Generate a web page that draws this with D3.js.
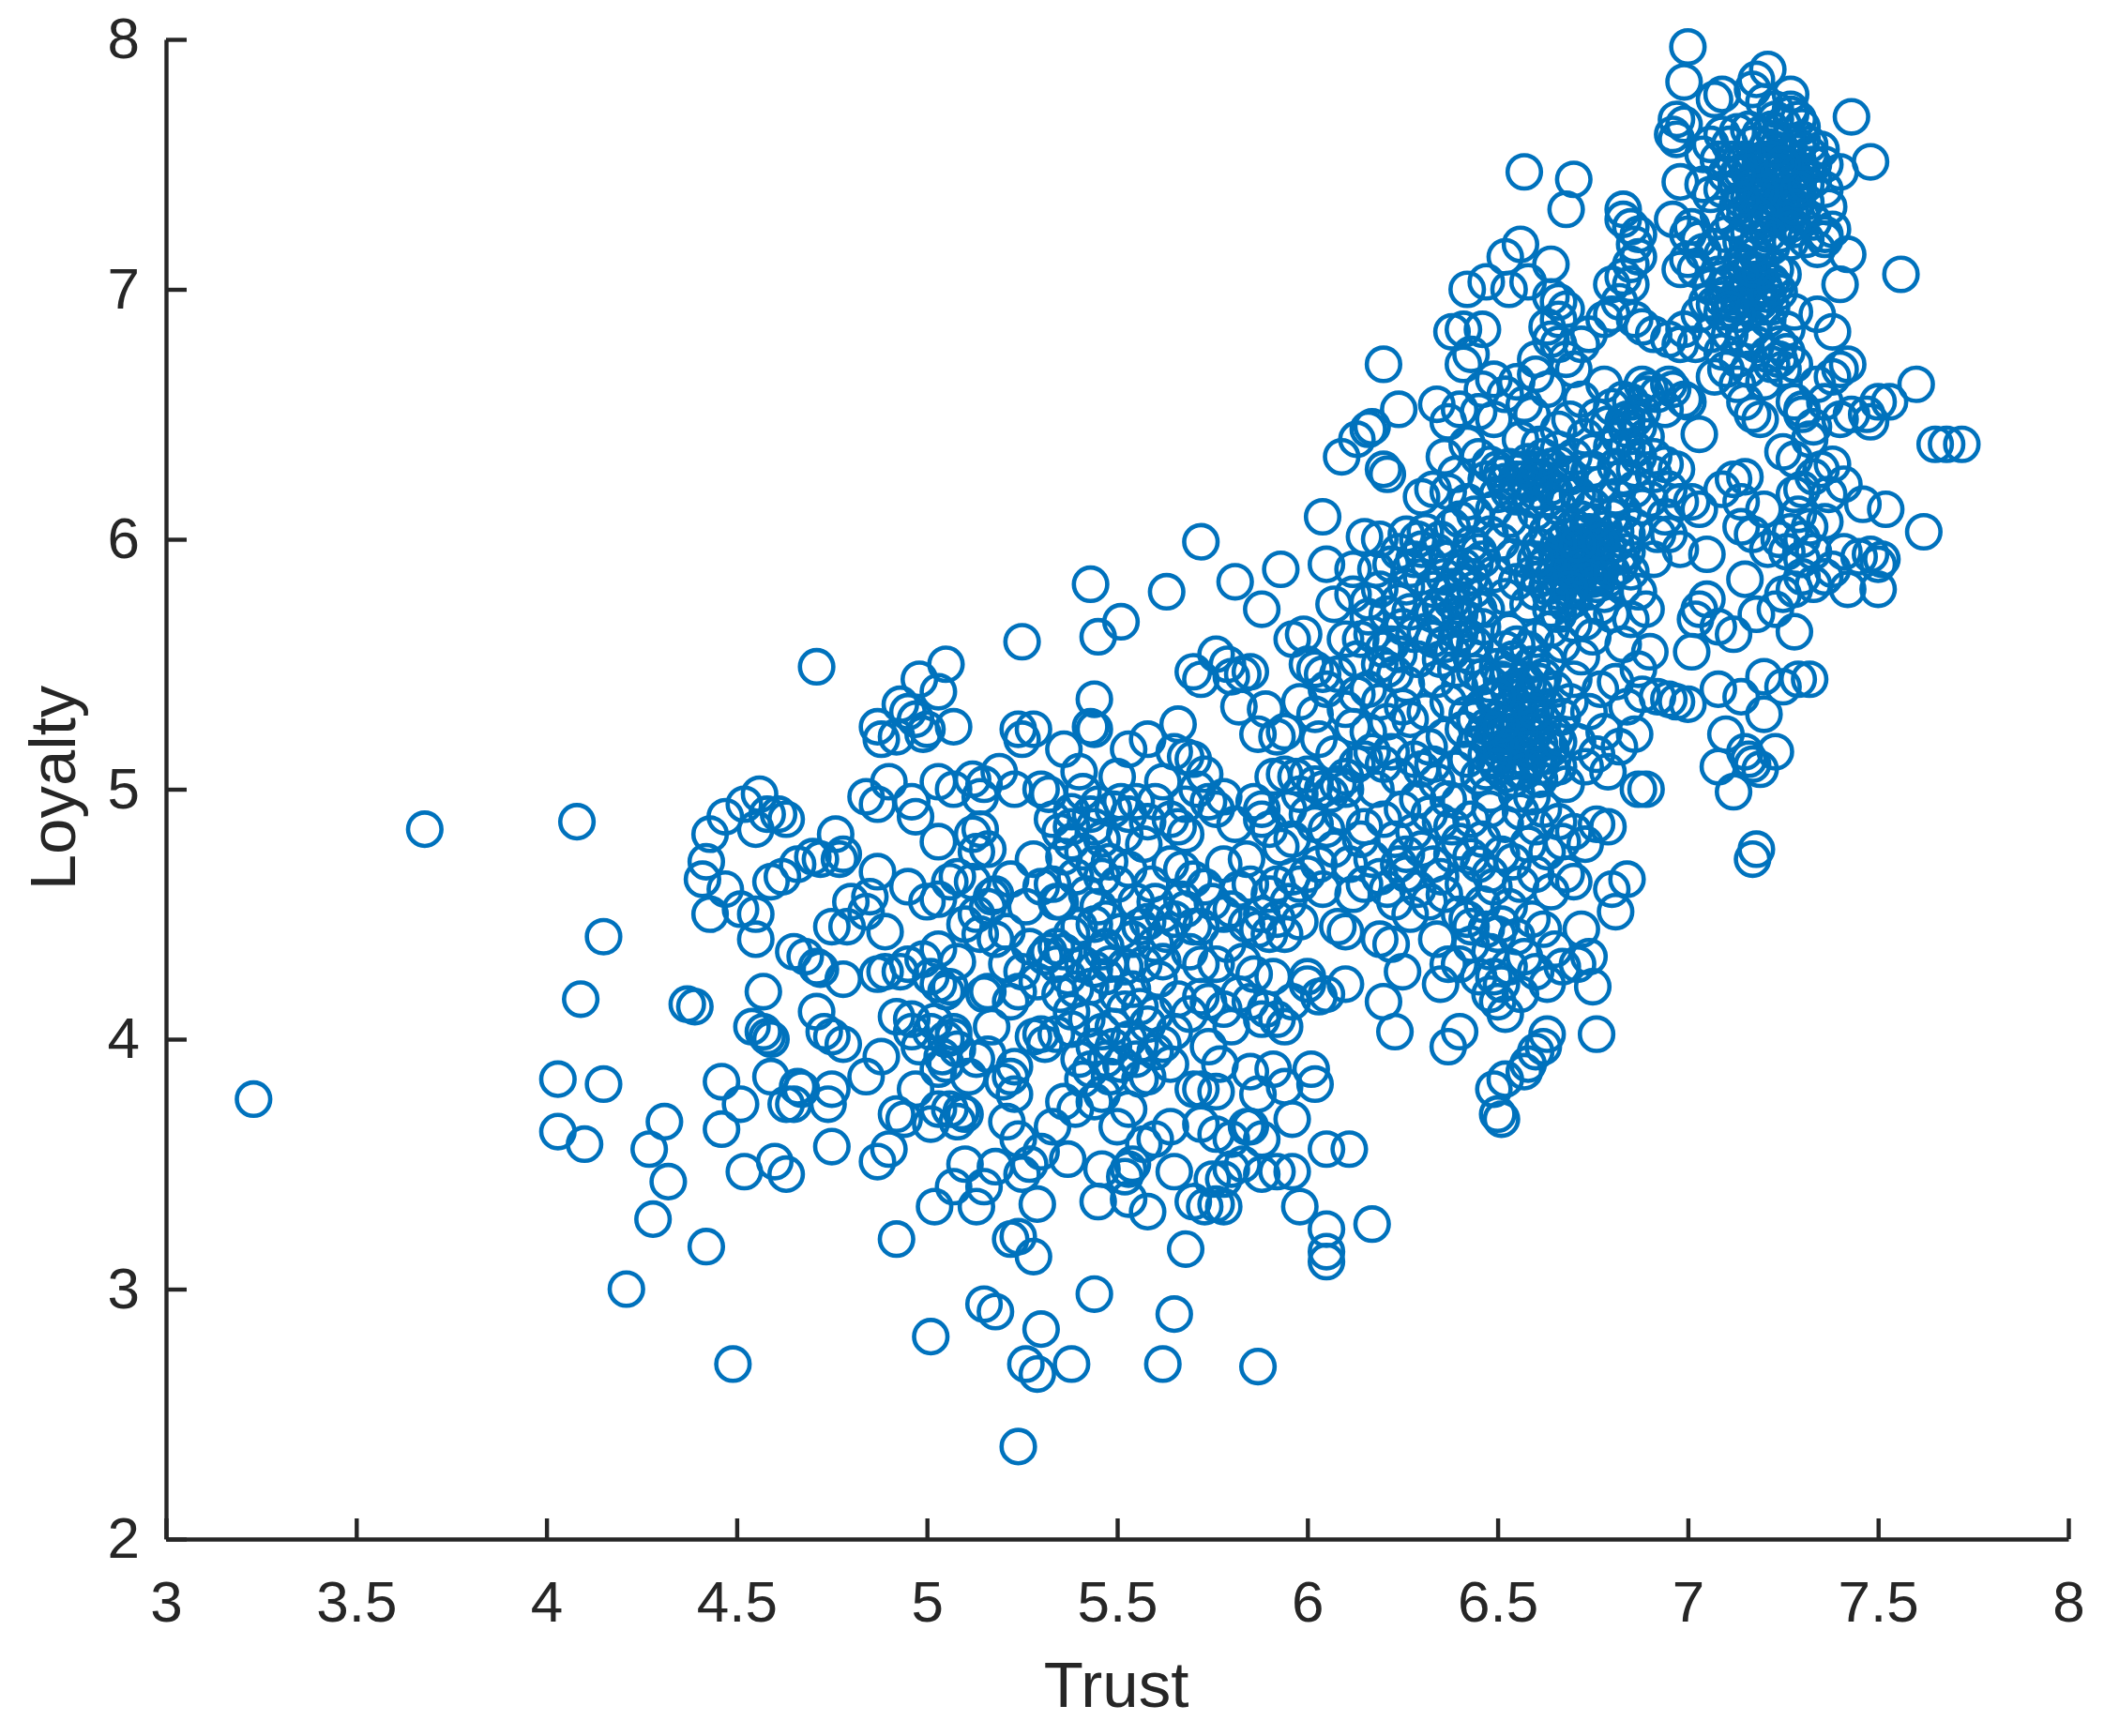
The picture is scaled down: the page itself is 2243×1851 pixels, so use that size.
<!DOCTYPE html>
<html><head><meta charset="utf-8">
<script src="https://cdn.jsdelivr.net/npm/d3@7"></script>
<style>html,body{margin:0;padding:0;background:#fff}svg{display:block}</style>
</head><body><svg id="chart" width="2243" height="1851"></svg>
<script>
const xTicks=[3,3.5,4,4.5,5,5.5,6,6.5,7,7.5,8];
const yTicks=[2,3,4,5,6,7,8];
const xTitle="Trust", yTitle="Loyalty";
const farLeft=[[3.23,3.76],[3.68,4.84],[4.08,4.87],[4.15,4.41],[4.09,4.16],[4.03,3.84],[4.15,3.82],[4.03,3.63],[4.10,3.58],[4.31,3.67],[4.27,3.56],[4.32,3.43],[4.28,3.28],[4.42,3.17],[4.21,3.00],[4.49,2.70],[4.37,4.14],[4.39,4.13],[4.46,3.83],[4.51,3.74],[4.46,3.64],[4.52,3.47],[4.60,3.51],[4.63,3.46],[4.54,4.05],[4.57,4.03],[4.59,4.00],[4.58,4.01],[4.57,4.19],[4.59,3.85],[4.63,3.74],[4.65,3.74],[4.67,3.80],[4.66,3.81],[4.74,3.74],[4.75,3.80],[4.75,3.57],[4.71,4.11],[4.73,4.03],[4.75,4.01],[4.78,3.98],[4.65,4.35],[4.68,4.33],[4.71,4.29],[4.72,4.28],[4.78,4.24],[4.84,3.85]];
const upperLeft=[[4.42,4.71],[4.41,4.64],[4.43,4.50],[4.43,4.82],[4.47,4.89],[4.52,4.94],[4.56,4.98],[4.55,4.84],[4.58,4.90],[4.61,4.90],[4.63,4.88],[4.47,4.60],[4.51,4.52],[4.55,4.50],[4.55,4.40],[4.59,4.63],[4.62,4.65],[4.66,4.70],[4.70,4.73],[4.72,4.72],[4.77,4.72],[4.78,4.74],[4.76,4.82],[4.84,4.97],[4.87,4.94],[4.75,4.45],[4.79,4.45],[4.80,4.55],[4.84,4.51],[4.85,4.57],[4.87,4.67],[4.89,4.43],[4.90,5.03],[4.71,5.49],[4.87,5.25],[4.88,5.20],[4.92,5.21],[4.93,5.34],[4.95,5.31],[4.97,5.28],[4.99,5.22],[5.00,5.24],[4.98,5.44],[5.03,5.39],[5.05,5.50],[5.07,5.25],[4.96,4.95],[4.97,4.89],[5.03,5.03],[5.07,5.00],[5.12,5.04],[5.14,4.97],[5.15,5.02],[5.19,5.07],[5.24,5.24],[5.25,5.20],[5.28,5.24],[5.25,5.59],[5.23,5.00],[5.03,4.79],[5.12,4.82],[5.13,4.75],[5.16,4.76],[5.14,4.84],[5.06,4.63],[5.08,4.65],[5.00,4.55],[4.95,4.61],[5.03,4.56],[5.13,4.50],[5.16,4.53],[5.17,4.57],[5.14,4.42],[5.18,4.40],[5.21,4.43],[4.87,4.26],[4.89,4.27],[4.93,4.27],[4.95,4.30],[4.99,4.32],[5.01,4.25],[5.03,4.22],[5.05,4.19],[5.06,4.21],[5.03,4.36],[5.08,4.31],[5.15,4.18],[5.16,4.19],[5.21,4.30],[5.25,4.27],[5.24,4.19],[5.26,4.53],[5.30,4.61],[5.33,4.62],[5.35,4.55],[5.32,4.35],[5.34,4.37],[5.31,4.33],[5.37,4.25],[5.39,4.20],[4.92,4.09],[4.96,4.08],[5.01,4.03],[5.07,4.01],[5.04,3.93],[5.28,4.01],[5.30,4.02],[5.34,4.02],[5.38,4.04]];
const lowerMid=[[5.24,2.37],[5.26,2.70],[5.29,2.66],[5.30,2.84],[5.38,2.70],[5.44,2.98],[5.01,2.81],[5.15,2.94],[5.18,2.91],[5.62,2.70],[5.87,2.69],[5.65,2.90],[5.28,3.13],[5.22,3.20],[5.24,3.21],[4.92,3.20],[5.02,3.33],[5.13,3.33],[5.15,3.41],[5.07,3.41],[5.10,3.50],[5.18,3.49],[5.25,3.46],[5.29,3.34],[5.30,3.55],[5.27,3.50],[5.45,3.35],[5.53,3.36],[5.58,3.31],[5.68,3.16],[5.70,3.35],[5.73,3.33],[5.76,3.34],[5.78,3.33],[5.75,3.44],[5.78,3.44],[5.80,3.48],[5.83,3.50],[5.65,3.47],[5.52,3.45],[5.53,3.48],[5.46,3.48],[5.54,3.50],[5.60,3.60],[5.57,3.58],[5.64,3.65],[5.50,3.65],[5.37,3.52],[5.33,3.65],[5.24,3.60],[5.21,3.67],[4.87,3.51],[4.90,3.56],[4.92,3.70],[4.94,3.68],[5.01,3.66],[5.03,3.72],[5.06,3.72],[5.08,3.67],[5.09,3.71],[5.10,3.70],[5.03,3.88],[5.05,3.90],[5.08,3.96],[5.13,3.92],[5.16,3.94],[5.20,3.83],[5.22,3.85],[5.23,3.89],[5.23,3.78],[5.05,4.00],[5.07,4.03],[4.88,3.93],[4.97,3.80],[4.98,3.97],[4.96,4.03],[5.02,4.07],[5.88,3.46],[5.92,3.47],[5.96,3.47],[5.88,3.60],[5.85,3.65],[5.80,3.60],[5.94,3.81],[5.91,3.88],[5.96,3.68],[5.98,3.33],[6.01,3.88],[6.02,3.82],[6.05,3.56],[6.11,3.56],[6.17,3.26],[6.05,3.24],[6.05,3.15],[6.05,3.11],[5.87,3.78],[5.85,3.87],[5.72,3.80],[5.76,3.79],[5.70,3.80],[5.74,3.97],[5.77,3.90],[5.80,4.05],[5.84,3.65],[5.72,3.66],[5.76,3.62],[5.36,3.75],[5.39,3.72],[5.44,3.75],[5.46,3.78],[5.48,3.85],[5.51,3.90],[5.56,3.84],[5.58,3.85],[5.60,3.95],[5.62,3.98],[5.65,4.03],[5.44,3.97],[5.46,4.03],[5.49,4.05],[5.43,3.88],[5.40,3.92],[5.42,4.08],[5.53,4.00],[5.56,3.98],[5.58,4.06],[5.64,3.90],[5.60,4.10]];
const midBlock=[[5.36,5.16],[5.30,5.00],[5.32,4.98],[5.33,4.88],[5.38,4.91],[5.38,4.85],[5.40,5.07],[5.41,4.99],[5.43,4.90],[5.44,4.85],[5.46,4.80],[5.38,4.79],[5.41,4.75],[5.44,4.70],[5.46,4.65],[5.42,4.58],[5.45,4.53],[5.47,4.48],[5.49,4.92],[5.51,4.95],[5.50,5.05],[5.53,4.90],[5.55,4.95],[5.57,4.78],[5.53,4.68],[5.50,4.62],[5.46,4.35],[5.48,4.30],[5.44,4.28],[5.41,4.30],[5.36,4.35],[5.34,4.30],[5.38,4.42],[5.40,4.45],[5.34,4.55],[5.47,4.25],[5.50,4.18],[5.52,4.12],[5.54,4.20],[5.43,5.82],[5.45,5.61],[5.51,5.67],[5.44,5.36],[5.43,5.25],[5.44,5.24],[5.53,5.16],[5.58,5.20],[5.63,5.79],[5.72,5.99],[5.70,5.47],[5.72,5.44],[5.66,5.26],[5.65,5.15],[5.68,5.13],[5.70,5.12],[5.62,5.03],[5.60,4.95],[5.64,4.88],[5.66,4.85],[5.68,4.82],[5.71,5.00],[5.74,4.95],[5.76,4.92],[5.78,4.97],[5.64,4.70],[5.67,4.68],[5.70,4.64],[5.60,4.55],[5.62,4.50],[5.65,4.48],[5.68,4.52],[5.70,4.45],[5.72,4.45],[5.58,4.47],[5.56,4.45],[5.54,4.40],[5.60,4.38],[5.57,4.30],[5.72,4.30],[5.76,4.30],[5.72,4.17],[5.74,4.15],[5.78,4.12],[5.69,4.10],[5.82,4.18],[5.85,4.15],[5.89,4.12],[5.92,4.08],[5.94,4.05],[5.88,4.08],[5.96,4.15],[6.00,4.22],[5.78,4.70],[5.82,4.60],[5.85,4.62],[5.80,4.52],[5.84,4.46],[5.87,4.44],[5.90,4.42],[5.92,4.48],[5.94,4.42],[5.88,4.50],[5.95,4.55],[5.98,4.47],[5.90,4.58],[5.92,4.62],[5.96,4.65],[5.98,4.62],[6.00,4.66],[6.03,4.70],[5.88,4.88],[5.86,4.95],[5.88,4.92],[5.90,4.84],[5.84,4.72],[5.93,4.77],[5.96,4.80],[5.75,4.55],[5.78,4.50],[5.80,5.45],[5.85,5.47],[5.83,5.46],[5.82,5.33],[5.76,5.54],[5.79,5.50],[5.81,5.83],[5.88,5.72],[5.93,5.88],[5.87,5.22],[5.92,5.21],[5.94,5.23],[5.96,5.60],[5.99,5.62],[6.00,5.50],[6.02,5.48],[6.04,5.46],[6.05,5.40],[6.03,5.20],[5.97,5.05],[6.00,5.06],[6.02,5.02],[6.04,5.00],[6.06,4.98],[5.98,4.98],[6.00,4.90],[6.02,4.86],[6.05,4.84],[6.08,5.02],[6.10,5.05],[6.00,4.25],[6.03,4.17],[6.05,4.18],[6.10,4.22],[6.08,4.45],[6.10,4.43],[6.20,4.15],[6.23,4.03],[6.15,4.62],[6.12,4.58]];
const midFill=[[5.47,4.37],[5.52,4.29],[5.43,4.21],[5.56,4.13],[5.38,4.11],[5.49,3.97],[5.61,4.24],[5.51,4.43],[5.35,4.18],[5.44,4.46],[5.59,4.62],[5.63,4.42],[5.55,4.55],[5.48,4.71],[5.39,4.65],[5.36,4.73],[5.52,4.82],[5.58,4.87],[5.45,4.94],[5.35,4.83],[5.55,3.92],[5.41,3.84],[5.47,3.92],[5.66,4.16],[5.62,4.31],[5.53,3.72],[5.31,3.98],[5.27,4.37],[5.29,4.23],[5.22,4.15],[5.18,4.58],[5.12,4.63],[5.10,4.46],[5.28,4.72],[5.22,4.64],[5.11,3.85],[5.17,4.05],[5.67,4.56],[5.73,4.61],[5.79,4.38],[5.83,4.31],[5.86,4.26],[5.69,4.35],[5.91,4.25],[5.81,4.86],[5.73,5.06],[5.68,4.94],[5.94,5.06],[5.89,5.32],[5.98,5.35],[6.02,5.30],[5.91,5.05],[5.95,4.92],[6.07,5.14],[6.09,4.90],[6.07,4.76],[6.11,4.70],[6.15,4.85],[6.04,4.60]];
const centerLeft=[[6.04,6.09],[6.05,5.90],[6.07,5.74],[6.09,6.33],[6.13,6.40],[6.16,6.44],[6.17,6.45],[6.20,6.28],[6.21,6.26],[6.20,6.70],[6.24,6.52],[6.30,6.17],[6.15,6.01],[6.19,6.00],[6.26,6.02],[6.29,6.00],[6.24,5.95],[6.22,5.90],[6.12,5.78],[6.16,5.75],[6.19,5.80],[6.21,5.70],[6.24,5.75],[6.27,5.88],[6.30,5.85],[6.14,5.60],[6.17,5.62],[6.20,5.56],[6.22,5.58],[6.24,5.54],[6.19,5.50],[6.21,5.48],[6.23,5.46],[6.13,5.38],[6.16,5.40],[6.10,5.32],[6.12,5.25],[6.15,5.12],[6.17,5.15],[6.20,5.10],[6.22,5.15],[6.13,5.10],[6.10,5.00],[6.18,5.00],[6.14,4.80],[6.17,4.72],[6.19,4.65],[6.24,4.70],[6.26,4.66],[6.21,4.60],[6.23,4.55],[6.27,4.50],[6.19,4.40],[6.22,4.38],[6.25,4.27],[6.27,5.28],[6.25,5.33],[6.28,5.12],[6.30,5.08],[6.32,4.90],[6.30,4.76],[6.33,4.70],[6.35,4.87],[6.38,4.85],[6.35,4.65],[6.36,4.58],[6.40,4.50],[6.42,4.48],[6.43,4.45],[6.37,4.30],[6.35,4.22],[6.40,4.30],[6.37,3.97],[6.40,4.03],[6.32,5.90],[6.34,5.95],[6.36,5.85],[6.38,5.75],[6.40,5.70],[6.33,5.60],[6.36,5.58],[6.38,5.55],[6.40,5.62],[6.42,5.60],[6.44,5.58],[6.46,5.65],[6.35,6.00],[6.38,6.05],[6.40,6.08],[6.43,5.98],[6.45,5.95],[6.42,6.15],[6.37,6.19],[6.33,6.20],[6.36,6.33],[6.34,6.54],[6.37,6.47],[6.40,6.52],[6.38,6.83],[6.41,6.84],[6.46,6.84],[6.41,6.70],[6.43,6.74],[6.46,6.60],[6.49,6.64],[6.42,7.00],[6.47,7.03],[6.52,7.13],[6.56,7.18],[6.57,7.47],[6.53,7.00],[6.58,7.03],[6.42,6.38],[6.45,6.33],[6.48,6.30],[6.50,6.28],[6.44,5.47],[6.46,5.45],[6.42,5.30],[6.44,5.28],[6.46,5.22],[6.47,5.14],[6.42,5.12],[6.45,5.05],[6.40,4.95],[6.43,4.88],[6.46,4.80],[6.48,4.92],[6.45,4.70],[6.48,4.66],[6.47,4.44],[6.48,4.35],[6.50,4.42],[6.49,4.25],[6.51,4.22],[6.50,4.15],[6.52,4.10],[6.48,4.18],[6.49,3.80],[6.52,3.84],[6.50,3.70],[6.51,3.68]];
const leftShoulder=[[6.27,5.71],[6.31,5.63],[6.29,5.52],[6.34,5.44],[6.26,5.42],[6.37,5.35],[6.31,5.31],[6.28,5.62],[6.35,5.73],[6.41,5.82],[6.33,5.80],[6.26,5.81],[6.18,5.88],[6.25,5.65],[6.39,5.48],[6.36,5.21],[6.32,5.17],[6.39,5.08],[6.34,5.03],[6.29,4.96],[6.25,4.92],[6.20,4.88],[6.37,4.96],[6.33,5.10],[6.24,5.05],[6.41,5.24],[6.40,5.41],[6.43,5.53],[6.47,5.72],[6.41,5.89],[6.30,5.96],[6.37,5.92],[6.44,5.80],[6.23,4.80],[6.28,4.83],[6.26,4.74],[6.38,4.74],[6.41,4.62],[6.32,4.55],[6.29,4.60],[6.40,4.79],[6.43,4.73],[6.34,4.40],[6.45,4.25],[6.43,4.38],[6.16,5.23],[6.21,5.27],[6.19,5.35],[6.13,5.52],[6.10,5.60],[6.16,5.69],[6.08,5.46],[6.12,5.88],[6.31,6.03],[6.28,5.92],[6.44,6.10],[6.49,6.12],[6.47,6.24],[6.39,6.26],[6.49,6.48],[6.52,6.58],[6.45,6.51]];
const coreA=[[6.53,5.23],[6.58,5.11],[6.49,5.36],[6.62,5.27],[6.55,4.98],[6.51,5.44],[6.60,5.38],[6.47,5.07],[6.64,5.16],[6.56,5.31],[6.52,5.06],[6.59,5.21],[6.54,5.17],[6.61,5.04],[6.50,5.28],[6.66,5.09],[6.57,5.44],[6.48,5.19],[6.63,5.33],[6.55,5.13],[6.53,5.39],[6.59,4.97],[6.51,5.14],[6.57,5.25],[6.65,5.22],[6.60,5.12],[6.46,5.33],[6.54,5.52],[6.58,5.34],[6.62,5.45],[6.49,5.24],[6.56,5.07],[6.52,5.31],[6.67,5.29],[6.61,5.18],[6.55,5.41],[6.50,5.49],[6.58,5.56],[6.63,5.51],[6.48,5.42],[6.53,5.63],[6.60,5.60],[6.65,5.40],[6.69,5.35],[6.56,4.91],[6.52,4.86],[6.60,4.85],[6.48,4.98],[6.44,5.18],[6.71,5.19],[6.68,5.02],[6.73,5.09],[6.76,5.14],[6.70,5.44],[6.74,5.31],[6.78,5.23],[6.72,5.53],[6.77,5.40],[6.67,5.58],[6.82,5.17],[6.79,5.07],[6.84,5.33],[6.81,5.43],[6.86,5.22],[6.75,5.61],[6.70,5.66],[6.64,5.64],[6.83,5.58],[6.87,5.48],[6.62,4.92],[6.66,4.87],[6.70,4.83],[6.58,4.78],[6.54,4.71],[6.63,4.75],[6.67,4.79],[6.73,4.78],[6.76,4.86],[6.79,4.85],[6.60,4.66],[6.56,4.62],[6.51,4.74],[6.49,4.61],[6.64,4.59],[6.68,4.66],[6.53,4.53],[6.59,4.48],[6.62,4.44],[6.55,4.41],[6.65,4.36],[6.72,4.44],[6.74,4.33],[6.71,4.30],[6.75,4.21],[6.76,4.02],[6.67,4.29],[6.63,4.22],[6.60,4.27],[6.57,4.33],[6.53,4.29],[6.56,4.18],[6.51,4.46],[6.62,3.97],[6.63,4.02],[6.60,3.95],[6.58,3.90],[6.57,3.87],[6.46,4.54],[6.80,4.60],[6.84,4.64],[6.81,4.51],[6.87,5.00],[6.89,5.00],[6.70,4.63]];
const coreB=[[6.71,5.93],[6.63,5.81],[6.78,6.04],[6.69,5.87],[6.74,5.79],[6.66,5.94],[6.81,5.98],[6.72,6.08],[6.59,5.86],[6.76,5.91],[6.68,6.01],[6.83,6.11],[6.64,5.72],[6.73,5.99],[6.79,5.84],[6.61,5.97],[6.70,5.76],[6.86,6.05],[6.75,6.13],[6.67,5.83],[6.77,5.73],[6.82,5.89],[6.65,6.06],[6.72,5.86],[6.80,6.09],[6.69,5.97],[6.74,5.90],[6.62,5.89],[6.84,5.95],[6.78,5.78],[6.71,6.02],[6.66,5.79],[6.88,6.13],[6.75,5.84],[6.70,5.95],[6.57,5.92],[6.83,5.81],[6.68,5.74],[6.79,5.97],[6.73,6.15],[6.60,5.79],[6.85,5.87],[6.76,6.01],[6.63,6.03],[6.81,6.17],[6.55,5.83],[6.58,5.74],[6.54,5.93],[6.52,5.77],[6.49,5.86],[6.46,5.92],[6.51,5.99],[6.56,6.05],[6.48,6.02],[6.60,6.11],[6.53,6.08],[6.66,6.13],[6.71,6.18],[6.77,6.22],[6.87,5.79],[6.89,5.72],[6.91,5.92],[6.92,6.02],[6.94,6.09],[6.90,6.16],[6.85,5.68],[6.80,5.70],[6.73,5.67],[6.66,5.70],[6.90,5.55],[6.92,5.37],[6.97,5.35],[6.95,5.36],[7.00,5.34],[6.88,5.38],[7.01,5.55],[6.86,6.20],[6.83,6.25],[6.91,6.26],[6.75,6.28],[6.69,6.25]];
const coreC=[[6.52,6.23],[6.58,6.31],[6.55,6.17],[6.62,6.24],[6.66,6.36],[6.60,6.19],[6.50,6.18],[6.64,6.29],[6.57,6.24],[6.68,6.18],[6.53,6.29],[6.70,6.33],[6.61,6.38],[6.73,6.41],[6.56,6.40],[6.66,6.44],[6.63,6.16],[6.75,6.35],[6.79,6.46],[6.84,6.37],[6.81,6.29],[6.87,6.45],[6.83,6.56],[6.90,6.60],[6.94,6.52],[6.88,6.62],[6.92,6.58],[6.96,6.60],[6.99,6.56],[6.80,6.53],[6.86,6.36],[6.76,6.49],[6.72,6.56],[6.78,6.62],[6.86,6.28],[6.89,6.41],[6.91,6.33],[6.84,6.48],[6.74,6.27],[6.69,6.48],[6.59,6.50],[6.55,6.63],[6.60,6.66],[6.57,6.54],[6.63,6.60],[6.64,6.80],[6.66,6.78],[6.68,6.72],[6.70,6.68],[6.63,6.85],[6.66,6.88],[6.68,6.92],[6.64,6.97],[6.66,6.95],[6.64,7.10],[6.68,7.32],[6.70,7.44],[6.60,6.72],[6.72,6.78],[6.74,6.82],[6.78,6.88],[6.80,6.90],[6.82,6.95],[6.80,7.02],[6.83,7.05],[6.85,7.02],[6.83,7.32],[6.83,7.28],[6.85,7.25],[6.87,7.22],[6.86,7.18],[6.87,7.13],[6.85,7.10],[6.86,6.88],[6.88,6.85],[6.91,6.82],[6.95,6.80],[6.98,6.78],[6.99,6.84],[7.02,6.78],[6.94,6.30],[6.97,6.28],[6.95,6.20],[6.98,6.15],[7.01,6.15],[7.03,6.12],[6.95,6.02],[6.98,5.96],[7.03,6.42],[7.00,6.55],[6.95,6.62],[7.05,5.94],[7.03,5.72],[7.05,5.76],[7.02,5.68],[7.08,5.65],[7.12,5.62],[7.08,5.40],[7.08,5.09],[7.10,5.22],[7.12,4.99],[7.14,5.37],[7.15,5.15],[7.16,5.12],[7.17,5.10],[7.19,5.08],[7.18,4.76],[7.17,4.72],[7.20,5.30],[7.23,5.15],[7.20,5.45],[7.25,5.41],[7.28,5.63],[7.29,5.44],[7.32,5.44],[7.15,5.84],[7.14,6.05],[7.12,6.24],[7.09,6.20],[7.15,6.25],[7.14,6.15]];
const rightBlock=[[7.62,6.03],[7.60,6.62],[7.65,6.38],[7.68,6.38],[7.72,6.38],[7.56,7.06],[7.43,7.69],[7.48,7.51],[7.40,7.47],[7.36,7.50],[7.52,6.12],[7.50,6.55],[7.53,6.55],[7.47,6.50],[7.48,6.47],[7.42,6.70],[7.40,6.68],[7.38,6.65],[7.43,6.50],[7.40,6.48],[7.36,6.55],[7.34,6.62],[7.33,6.45],[7.32,6.40],[7.30,6.50],[7.28,6.55],[7.38,6.83],[7.40,7.02],[7.42,7.14],[7.38,7.24],[7.36,7.20],[7.34,6.90],[7.38,6.30],[7.35,6.28],[7.41,6.22],[7.37,6.18],[7.33,6.25],[7.30,6.20],[7.29,6.10],[7.28,6.18],[7.32,6.05],[7.36,6.07],[7.28,6.32],[7.25,6.35],[7.48,5.94],[7.50,5.90],[7.51,5.92],[7.50,5.80],[7.46,6.14],[7.45,5.93],[7.41,5.95],[7.42,5.80],[7.38,5.88],[7.36,5.85],[7.33,5.82],[7.30,5.85],[7.28,5.80],[7.25,5.78],[7.26,5.95],[7.30,5.92],[7.33,5.95],[7.23,5.72],[7.21,5.96],[7.24,6.00],[7.27,6.03],[7.30,6.00],[7.18,5.70],[7.20,6.12],[7.17,6.02],[7.10,6.68],[7.13,6.62],[7.15,6.55],[7.17,6.50],[7.19,6.48],[7.22,6.70],[7.24,6.72],[7.26,6.75],[7.28,6.70],[7.30,6.52]];
const coreE=[[7.13,6.97],[7.18,7.04],[7.09,6.91],[7.21,6.88],[7.15,7.09],[7.24,6.99],[7.11,7.03],[7.17,6.84],[7.20,7.01],[7.14,6.93],[7.23,7.08],[7.08,7.06],[7.19,6.95],[7.16,7.02],[7.12,6.87],[7.22,6.93],[7.26,6.84],[7.18,6.78],[7.10,6.98],[7.15,6.80],[7.25,7.06],[7.21,6.74],[7.07,6.94],[7.14,7.11],[7.28,6.91],[7.19,7.10],[7.11,6.82],[7.24,6.78],[7.06,7.01],[7.17,6.92],[7.22,7.03],[7.13,6.72],[7.16,6.68],[7.07,6.65],[7.05,6.95],[7.02,7.08],[7.00,7.12],[6.98,7.08],[7.00,7.22],[7.03,7.20],[6.96,7.28],[6.98,7.43],[7.01,7.25],[7.04,7.15],[7.07,7.17],[7.09,7.14],[7.06,6.82],[7.09,6.75],[7.03,6.90],[7.25,6.68],[7.20,6.63]];
const coreD=[[7.23,7.36],[7.18,7.44],[7.27,7.31],[7.15,7.52],[7.21,7.28],[7.30,7.47],[7.25,7.55],[7.19,7.33],[7.13,7.41],[7.28,7.38],[7.24,7.22],[7.17,7.58],[7.32,7.54],[7.22,7.48],[7.26,7.27],[7.14,7.47],[7.20,7.52],[7.29,7.57],[7.16,7.37],[7.25,7.42],[7.31,7.35],[7.19,7.25],[7.12,7.52],[7.27,7.49],[7.23,7.60],[7.33,7.44],[7.18,7.38],[7.22,7.31],[7.28,7.24],[7.15,7.30],[7.10,7.46],[7.30,7.29],[7.26,7.59],[7.35,7.56],[7.20,7.41],[7.24,7.45],[7.17,7.50],[7.13,7.33],[7.29,7.43],[7.21,7.57],[7.33,7.27],[7.25,7.33],[7.16,7.23],[7.36,7.22],[7.31,7.20],[7.11,7.58],[7.08,7.52],[7.27,7.19],[7.34,7.16],[7.22,7.17],[7.18,7.14],[7.14,7.19],[7.09,7.40],[7.06,7.38],[7.04,7.42],[7.06,7.58],[7.04,7.54],[7.09,7.62],[7.13,7.63],[7.12,7.27],[7.10,7.22],[7.08,7.30],[7.30,7.60],[7.32,7.58],[7.29,7.68],[7.27,7.70],[7.25,7.66],[7.23,7.68],[7.22,7.64],[7.19,7.62],[7.16,7.64],[6.97,7.68],[6.96,7.62],[6.99,7.66],[6.97,7.60],[6.99,7.83],[7.00,7.97],[7.07,7.76],[7.09,7.78],[7.17,7.80],[7.18,7.84],[7.21,7.88],[7.20,7.75],[7.23,7.72],[7.27,7.78],[7.27,7.72],[7.30,7.65],[7.37,7.33],[7.36,7.40]];
const denseBlobs=[[6.57,5.19],[6.53,5.11],[6.61,5.09],[6.55,5.27],[6.51,5.21],[6.59,5.29],[6.54,5.04],[6.58,5.16],[6.50,5.09],[6.56,5.21],[6.63,5.19],[6.52,5.17],[6.60,5.23],[6.57,5.07],[6.54,5.34],[6.49,5.12],[6.62,5.13],[6.56,5.37],[6.51,5.26],[6.58,5.42],[6.53,5.47],[6.60,5.31],[6.55,5.58],[6.59,5.50],[6.52,5.56],[6.64,5.08],[6.66,5.19],[6.47,5.25],[6.50,5.37],[6.61,5.43],[6.70,5.86],[6.73,5.92],[6.67,5.90],[6.75,5.97],[6.71,5.82],[6.77,5.87],[6.69,5.93],[6.74,6.03],[6.65,5.86],[6.79,5.92],[6.72,5.96],[6.68,5.85],[6.76,5.82],[6.63,5.91],[6.81,6.03],[6.70,6.05],[6.78,5.95],[6.66,5.98],[6.74,5.85],[6.82,5.93],[6.72,5.89],[6.69,5.80],[6.64,5.77],[6.84,6.02],[6.61,5.84],[6.75,6.07],[6.80,5.87],[6.60,5.92],[6.77,5.99],[6.71,5.98],[6.58,6.22],[6.61,6.28],[6.55,6.24],[6.64,6.21],[6.59,6.16],[6.66,6.30],[6.53,6.19],[6.62,6.33],[6.57,6.28],[6.68,6.26],[6.65,6.19],[6.51,6.26],[6.60,6.25],[6.86,6.48],[6.84,6.44],[6.88,6.51],[6.82,6.41],[6.85,6.55],[6.80,6.37],[6.89,6.58],[6.83,6.47],[6.87,6.33],[7.21,7.43],[7.25,7.37],[7.19,7.50],[7.23,7.29],[7.27,7.45],[7.17,7.41],[7.22,7.52],[7.26,7.35],[7.18,7.30],[7.29,7.51],[7.24,7.47],[7.20,7.35],[7.28,7.33],[7.16,7.47],[7.31,7.42],[7.23,7.56],[7.19,7.39],[7.27,7.26],[7.14,7.36],[7.33,7.50],[7.25,7.50],[7.21,7.22],[7.17,7.16],[7.29,7.40],[7.13,7.46],[7.15,7.00],[7.12,6.94],[7.18,6.99],[7.10,7.02],[7.16,6.96],[7.20,6.93],[7.14,7.05],[7.19,7.07],[7.13,6.90],[7.21,6.98],[7.09,6.96],[7.17,7.08],[7.11,6.92],[7.23,7.01],[6.38,5.81],[6.41,5.75],[6.36,5.67],[6.43,5.85],[6.39,5.60],[6.42,5.68],[6.37,5.78],[6.45,5.72],[6.35,5.52],[6.40,5.87],[6.44,5.90],[6.33,5.70]];
const allPoints=[...farLeft,...upperLeft,...lowerMid,...midBlock,...midFill,...centerLeft,...leftShoulder,...coreA,...coreB,...coreC,...rightBlock,...coreE,...coreD,...denseBlobs];
const svg=d3.select("#chart");
const x=d3.scaleLinear().domain([3,8]).range([177,2205]);
const y=d3.scaleLinear().domain([2,8]).range([1641,42]);
const ink="#262626",font="'Liberation Sans',Arial,sans-serif";
svg.append("g").selectAll("circle").data(allPoints).join("circle")
  .attr("cx",d=>x(d[0])).attr("cy",d=>y(d[1])).attr("r",17.8)
  .attr("fill","none").attr("stroke","#0072BD").attr("stroke-width",4.6);
const xAxis=svg.append("g").attr("transform","translate(0,1641)")
  .call(d3.axisBottom(x).tickValues(xTicks).tickFormat(String).tickSizeInner(-22).tickSizeOuter(0).tickPadding(44));
const yAxis=svg.append("g").attr("transform","translate(177,0)")
  .call(d3.axisLeft(y).tickValues(yTicks).tickFormat(String).tickSizeInner(-22).tickSizeOuter(0).tickPadding(28));
[xAxis,yAxis].forEach(g=>{
  g.selectAll("path,line").attr("stroke",ink).attr("stroke-width",4.4);
  g.selectAll("text").attr("fill",ink).style("font-family",font).style("font-size","62px");
});
svg.append("text").text(xTitle).attr("x",1190).attr("y",1820).attr("text-anchor","middle")
  .attr("fill",ink).style("font-family",font).style("font-size","69px");
svg.append("text").text(yTitle).attr("transform","translate(80,840) rotate(-90)").attr("text-anchor","middle")
  .attr("fill",ink).style("font-family",font).style("font-size","69px");
</script></body></html>
